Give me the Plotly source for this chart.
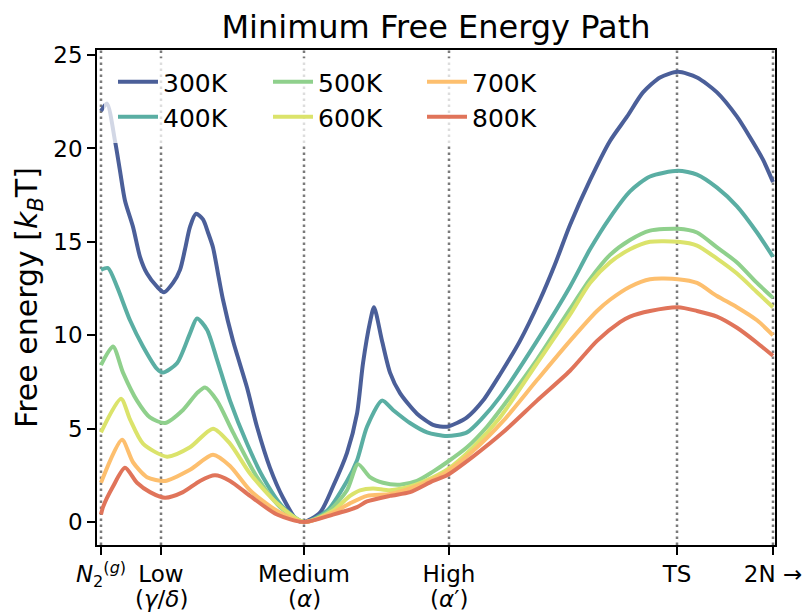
import plotly.graph_objects as go

# Path coordinate (arbitrary units) of the labelled states
tick_pos = [0, 60, 203, 348, 576, 672]
tick_text = ["<i>N</i><sub>2</sub><sup>(<i>g</i>)</sup>", "Low", "Medium", "High", "TS", "2N →"]
tick_sub = ["", "(<i>γ</i>/<i>δ</i>)", "(<i>α</i>)", "(<i>α</i>′)", "", ""]

x300 = [0, 6, 14, 19, 24, 32, 39, 46, 56, 63, 72, 79, 84, 89, 95, 102, 107, 112, 117, 122, 132, 146, 156, 169,
        182, 196, 203, 219, 232, 246, 256, 262, 269, 273, 281, 289, 299, 316, 332, 346, 356, 366, 382, 399, 419,
        439, 454, 469, 489, 509, 526, 542, 559, 577, 596, 616, 636, 649, 662, 672]
y300 = [22.0, 22.4, 20.4, 18.8, 17.2, 15.8, 14.2, 13.3, 12.6, 12.3, 12.8, 13.5, 14.6, 15.8, 16.5, 16.2, 15.5, 14.7,
        13.3, 11.9, 9.7, 7.2, 5.1, 2.9, 1.3, 0.1, 0.0, 0.5, 1.9, 3.7, 5.8, 8.5, 10.7, 11.5, 9.7, 8.0, 6.9, 5.8, 5.2,
        5.1, 5.3, 5.6, 6.5, 7.9, 9.7, 11.9, 13.8, 15.9, 18.3, 20.4, 21.7, 23.0, 23.8, 24.1, 23.8, 23.0, 21.7, 20.6,
        19.4, 18.2]

x400 = [0, 7, 16, 29, 42, 56, 62, 76, 89, 96, 106, 116, 129, 146, 162, 182, 203, 226, 246, 256, 266, 281, 292, 309,
        326, 346, 366, 382, 399, 436, 469, 489, 509, 529, 549, 577, 596, 616, 636, 656, 672]
y400 = [13.5, 13.6, 12.6, 10.8, 9.4, 8.2, 8.0, 8.5, 10.1, 10.9, 10.3, 8.7, 6.5, 4.2, 2.4, 0.8, 0.0, 0.6, 2.2, 3.3,
        5.1, 6.5, 6.0, 5.3, 4.8, 4.6, 4.8, 5.6, 6.7, 9.7, 12.6, 14.6, 16.3, 17.7, 18.5, 18.8, 18.6, 17.9, 16.9, 15.5,
        14.2]

x500 = [0, 12, 22, 36, 49, 64, 82, 96, 104, 116, 132, 156, 179, 203, 226, 246, 257, 269, 282, 299, 316, 332, 346,
        366, 386, 402, 436, 469, 489, 509, 529, 549, 577, 596, 616, 636, 656, 672]
y500 = [8.4, 9.4, 8.0, 6.5, 5.6, 5.3, 6.0, 6.9, 7.2, 6.5, 4.8, 2.4, 0.8, 0.0, 0.5, 1.7, 3.1, 2.4, 2.1, 2.0, 2.2, 2.7,
        3.2, 4.0, 5.1, 6.2, 8.7, 11.4, 13.0, 14.3, 15.1, 15.6, 15.7, 15.5, 14.7, 13.9, 12.8, 12.0]

x600 = [0, 20, 29, 42, 66, 89, 112, 129, 149, 176, 203, 232, 249, 259, 272, 289, 309, 332, 346, 372, 399, 436, 469,
        489, 509, 529, 549, 577, 596, 616, 636, 656, 672]
y600 = [4.8, 6.6, 5.5, 4.2, 3.5, 4.0, 5.0, 4.2, 2.6, 1.0, 0.0, 0.6, 1.4, 1.7, 1.8, 1.7, 1.9, 2.4, 2.8, 4.0, 5.6, 8.5,
        11.1, 12.8, 13.9, 14.6, 15.0, 15.0, 14.8, 14.1, 13.3, 12.3, 11.5]

x700 = [0, 21, 32, 46, 64, 89, 112, 129, 149, 176, 203, 232, 249, 266, 289, 309, 332, 346, 372, 402, 436, 469, 496,
        509, 529, 549, 577, 596, 616, 636, 656, 672]
y700 = [2.1, 4.4, 3.2, 2.4, 2.2, 2.8, 3.6, 3.0, 1.7, 0.6, 0.0, 0.5, 1.0, 1.4, 1.5, 1.8, 2.3, 2.7, 3.8, 5.4, 7.6, 9.7,
        11.3, 11.9, 12.6, 13.0, 13.0, 12.8, 12.1, 11.5, 10.8, 10.0]

x800 = [0, 2, 12, 24, 36, 49, 64, 82, 99, 114, 129, 149, 176, 203, 232, 256, 266, 289, 309, 332, 346, 372, 402, 436,
        469, 496, 519, 529, 549, 577, 596, 616, 636, 656, 672]
y800 = [0.4, 0.8, 1.9, 2.9, 2.1, 1.6, 1.3, 1.6, 2.2, 2.5, 2.2, 1.4, 0.4, 0.0, 0.4, 0.8, 1.1, 1.4, 1.6, 2.2, 2.5, 3.5,
        4.8, 6.5, 8.1, 9.7, 10.7, 11.0, 11.3, 11.5, 11.3, 11.0, 10.4, 9.6, 8.9]

labels = ["300K", "400K", "500K", "600K", "700K", "800K"]
xs = [x300, x400, x500, x600, x700, x800]
ys = [y300, y400, y500, y600, y700, y800]
colors = ["#4b5f99", "#5aaea3", "#8fd08c", "#dbe36b", "#fdbf6e", "#e0745a"]

FONT = "DejaVu Sans"
W, H = 806, 614
L, R, T, B = 97, 775, 50, 545

def px_x(p):
    return (p - L) / (R - L)

def px_y(p):
    return (B - p) / (B - T)

fig = go.Figure()
col_x = [113, 113, 268, 268, 422, 422]
row_y = [82, 117, 82, 117, 82, 117]
layout_legends = {}
for i, (lab, x, y, c) in enumerate(zip(labels, xs, ys, colors)):
    lname = "legend" if i == 0 else f"legend{i+1}"
    fig.add_trace(go.Scatter(x=x, y=y, mode="lines", name=lab, showlegend=True,
                             line=dict(color=c, width=4, shape="spline", smoothing=0.7),
                             legend=lname))
    layout_legends[lname] = dict(x=px_x(col_x[i]), y=px_y(row_y[i]), xanchor="left", yanchor="middle",
                                 bgcolor="rgba(0,0,0,0)", borderwidth=0, visible=True,
                                 font=dict(family=FONT, size=25, color="black"),
                                 itemwidth=40)

shapes = []
for p in tick_pos:
    shapes.append(dict(type="line", xref="x", yref="paper", x0=p, x1=p, y0=0, y1=1, layer="below",
                       line=dict(color="#7a7a7a", width=2.5, dash="2.5px,3.5px")))
# legend frame (semi-transparent white)
shapes.append(dict(type="rect", xref="paper", yref="paper", x0=px_x(104), x1=px_x(545), y0=px_y(143), y1=px_y(58),
                   fillcolor="rgba(255,255,255,0.75)", line=dict(width=0), layer="above"))

annotations = []
for p, s in zip(tick_pos, tick_sub):
    if s:
        annotations.append(dict(x=p, xref="x", y=px_y(599), yref="paper", text=s, showarrow=False,
                                xanchor="center", yanchor="middle",
                                font=dict(family=FONT, size=23, color="black")))

fig.update_layout(
    width=W, height=H,
    margin=dict(l=L, r=W - R, t=T, b=H - B, autoexpand=False),
    paper_bgcolor="white", plot_bgcolor="white",
    showlegend=True,
    font=dict(family=FONT, size=24, color="black"),
    title=dict(text="Minimum Free Energy Path", x=(L + R) / 2 / W, xanchor="center",
               y=1 - 27 / H, yanchor="middle", yref="container",
               font=dict(family=FONT, size=32, color="black")),
    shapes=shapes,
    annotations=annotations,
    **layout_legends,
)
fig.update_xaxes(range=[-4, 674], tickmode="array", tickvals=tick_pos, ticktext=tick_text,
                 showgrid=False, zeroline=False, showline=True, linecolor="black", linewidth=1.5, mirror=True,
                 ticks="outside", ticklen=8, tickwidth=1.5, tickcolor="black",
                 tickfont=dict(family=FONT, size=23, color="black"), automargin=False)
fig.update_yaxes(range=[-1.23, 25.27], tickmode="array", tickvals=[0, 5, 10, 15, 20, 25],
                 showgrid=False, zeroline=False, showline=True, linecolor="black", linewidth=1.5, mirror=True,
                 ticks="outside", ticklen=8, tickwidth=1.5, tickcolor="black",
                 tickfont=dict(family=FONT, size=23, color="black"), automargin=False,
                 title=dict(text="Free energy [<i>k</i><sub><i>B</i></sub>T]",
                            font=dict(family=FONT, size=30, color="black"), standoff=7))

fig.write_html("out.html")
